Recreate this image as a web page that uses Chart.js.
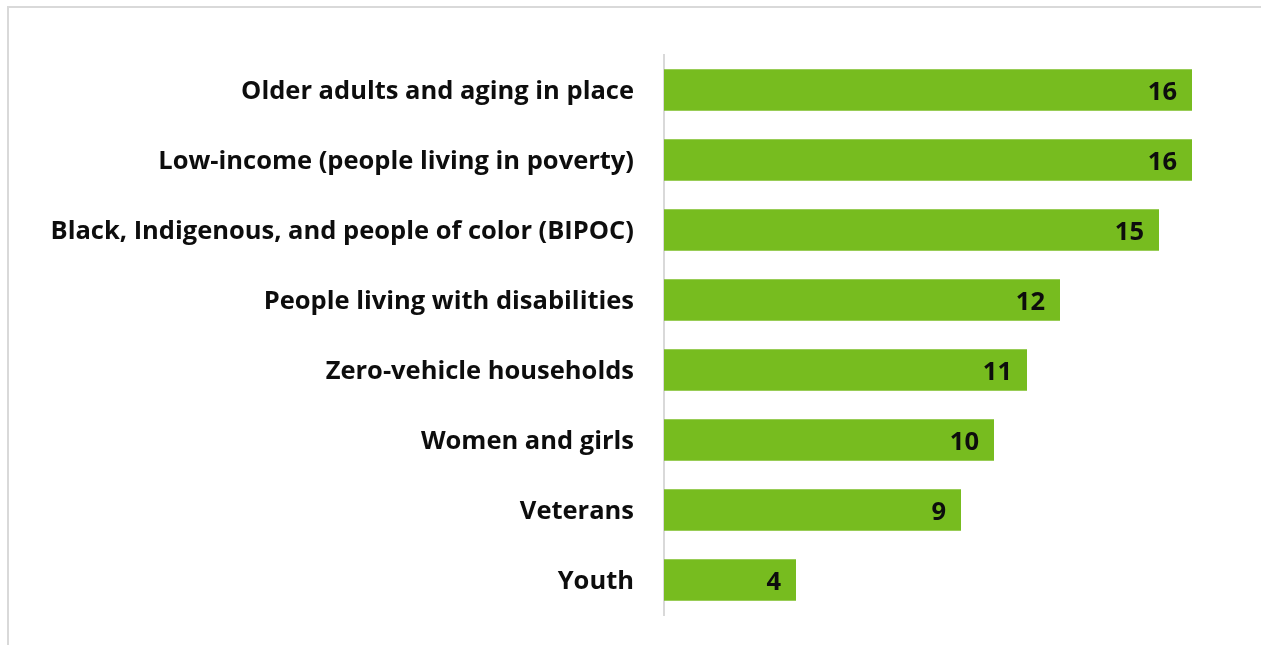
<!DOCTYPE html>
<html>
<head>
<meta charset="utf-8">
<script src="https://cdn.jsdelivr.net/npm/chart.js@4"></script>
<style>
  body { margin: 0; background: #fff; }
  #wrap { position: absolute; left: 0; top: 0; width: 1261px; height: 645px; }
  #frame { position: absolute; left: 7px; top: 6px; width: 1254px; height: 639px;
           border-top: 2px solid #d9d9d9; border-left: 2px solid #d9d9d9; box-sizing: border-box; }
</style>
</head>
<body>
<div id="frame"></div>
<div id="wrap"><canvas id="BarChart"></canvas></div>
<script>
const groups = [
    'Older adults and aging in place',
    'Low-income (people living in poverty)',
    'Black, Indigenous, and people of color (BIPOC)',
    'People living with disabilities',
    'Zero-vehicle households',
    'Women and girls',
    'Veterans',
    'Youth'
];
const counts = [16, 16, 15, 12, 11, 10, 9, 4];

// value labels drawn at the inner end of each bar
const valueLabels = {
    id: 'valueLabels',
    afterDatasetsDraw(chart) {
        const ctx = chart.ctx;
        const meta = chart.getDatasetMeta(0);
        ctx.save();
        ctx.font = 'bold 25.5px "Open Sans"';
        ctx.fillStyle = '#0d0d0d';
        ctx.textAlign = 'right';
        ctx.textBaseline = 'middle';
        meta.data.forEach((bar, i) => {
            ctx.fillText(String(counts[i]), bar.x - 15, bar.y + 3);
        });
        ctx.restore();
    }
};

const ctx = document.getElementById('BarChart').getContext('2d');
new Chart(ctx, {
    type: 'bar',
    data: {
        labels: groups,
        datasets: [{
            data: counts,
            backgroundColor: '#77bc1f',
            categoryPercentage: 1,
            barPercentage: 0.59
        }]
    },
    options: {
        indexAxis: 'y',
        responsive: true,
        maintainAspectRatio: false,
        animation: false,
        layout: { padding: { top: 55, bottom: 30, left: 0, right: 3 } },
        plugins: {
            legend: { display: false },
            tooltip: { enabled: false }
        },
        scales: {
            x: {
                min: 0,
                max: 18,
                display: false
            },
            y: {
                grid: { display: false, drawTicks: false },
                border: { display: true, color: '#d9d9d9', width: 2 },
                ticks: {
                    color: '#0d0d0d',
                    font: { family: 'Open Sans', weight: 'bold', size: 25.5 },
                    padding: 30,
                    labelOffset: 2
                },
                afterFit(scale) {
                    scale.width = 664;
                    // tick padding should not eat into the plot height
                    scale.paddingTop = 0;
                    scale.paddingBottom = 0;
                }
            }
        }
    },
    plugins: [valueLabels]
});
</script>
</body>
</html>
